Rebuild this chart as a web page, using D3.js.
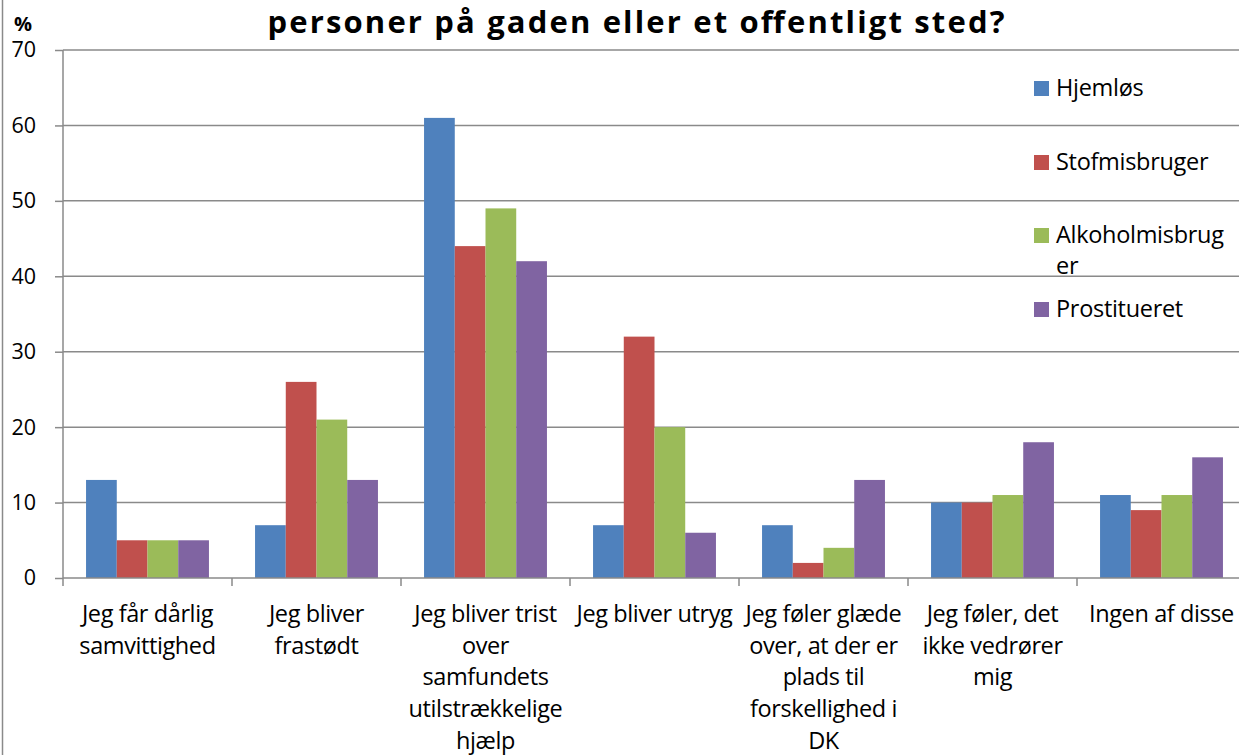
<!DOCTYPE html>
<html>
<head>
<meta charset="utf-8">
<script src="https://cdn.jsdelivr.net/npm/d3@7"></script>
<style>
  html, body { margin: 0; padding: 0; background: #fff; }
  svg { display: block; }
  text { font-family: "Open Sans", "Noto Sans", sans-serif; }
</style>
</head>
<body>
<svg id="chart" width="1239" height="755"></svg>
<script>
// ---- data ----
const categories = [
  "Jeg får dårlig samvittighed",
  "Jeg bliver frastødt",
  "Jeg bliver trist over samfundets utilstrækkelige hjælp",
  "Jeg bliver utryg",
  "Jeg føler glæde over, at der er plads til forskellighed i DK",
  "Jeg føler, det ikke vedrører mig",
  "Ingen af disse"
];
const categoryLines = [
  ["Jeg får dårlig", "samvittighed"],
  ["Jeg bliver", "frastødt"],
  ["Jeg bliver trist", "over", "samfundets", "utilstrækkelige", "hjælp"],
  ["Jeg bliver utryg"],
  ["Jeg føler glæde", "over, at der er", "plads til", "forskellighed i", "DK"],
  ["Jeg føler, det", "ikke vedrører", "mig"],
  ["Ingen af disse"]
];
const seriesNames = ["Hjemløs", "Stofmisbruger", "Alkoholmisbruger", "Prostitueret"];
const legendLines = [["Hjemløs"], ["Stofmisbruger"], ["Alkoholmisbrug", "er"], ["Prostitueret"]];
const hjemlos        = [13, 7, 61, 7, 7, 10, 11];
const stofmisbruger  = [5, 26, 44, 32, 2, 10, 9];
const alkoholmisbrug = [5, 21, 49, 20, 4, 11, 11];
const prostitueret   = [5, 13, 42, 6, 13, 18, 16];
const yTicks = [0, 10, 20, 30, 40, 50, 60, 70];
const titleText = "personer på gaden eller et offentligt sted?";
const yUnit = "%";

const seriesValues = [hjemlos, stofmisbruger, alkoholmisbrug, prostitueret];
const colors = ["#4F81BD", "#C0504D", "#9BBB59", "#8064A2"];

// ---- layout ----
const svg = d3.select("#chart");
const plotLeft = 63, plotTop = 50, plotBottom = 578;
const bandW = 169;
const plotRight = plotLeft + bandW * categories.length;

const x0 = d3.scaleBand().domain(categories).range([plotLeft, plotRight]).paddingInner(0).paddingOuter(0);
const x1 = d3.scaleBand().domain(seriesNames).range([0, x0.bandwidth()]).paddingInner(0).paddingOuter(0.75);
const y = d3.scaleLinear().domain([0, 70]).range([plotBottom, plotTop]);

const gridColor = "#8a8a8a";

// chart border on the left
svg.append("line").attr("x1", 2.5).attr("x2", 2.5).attr("y1", 0).attr("y2", 755)
  .attr("stroke", gridColor).attr("stroke-width", 1.5);

// gridlines
svg.append("g").selectAll("line").data(yTicks.filter(d => d > 0)).join("line")
  .attr("x1", plotLeft).attr("x2", 1239)
  .attr("y1", d => y(d)).attr("y2", d => y(d))
  .attr("stroke", gridColor).attr("stroke-width", 1.5);

// bars
const groups = svg.append("g").selectAll("g").data(categories).join("g")
  .attr("transform", d => `translate(${x0(d)},0)`);
groups.selectAll("rect")
  .data((c, i) => seriesNames.map((s, j) => ({ s, v: seriesValues[j][i], j })))
  .join("rect")
  .attr("x", d => x1(d.s))
  .attr("width", x1.bandwidth())
  .attr("y", d => y(d.v))
  .attr("height", d => y(0) - y(d.v))
  .attr("fill", d => colors[d.j]);

// y axis
const yAxis = d3.axisLeft(y).tickValues(yTicks).tickSize(8).tickPadding(8).tickFormat(d3.format("d"));
const yg = svg.append("g").attr("transform", `translate(${plotLeft},0)`).call(yAxis);
yg.select(".domain").attr("stroke", gridColor).attr("stroke-width", 1.5).attr("d", `M0,${plotTop}V${plotBottom}`);
yg.selectAll(".tick line").attr("stroke", gridColor).attr("stroke-width", 1.5);
yg.selectAll(".tick text").attr("font-size", 21.5).attr("fill", "#000")
  .attr("font-family", "'Open Sans', sans-serif").attr("x", -27);

// x axis
const xg = svg.append("g").attr("transform", `translate(0,${plotBottom})`);
xg.append("line").attr("x1", plotLeft).attr("x2", 1239).attr("y1", 0).attr("y2", 0)
  .attr("stroke", gridColor).attr("stroke-width", 1.5);
xg.selectAll("line.tick").data(categories.map(c => x0(c)).concat([plotRight]).filter(v => v < 1239))
  .join("line").attr("class", "tick")
  .attr("x1", d => d).attr("x2", d => d).attr("y1", 0).attr("y2", 8)
  .attr("stroke", gridColor).attr("stroke-width", 1.5);

// category labels
const lab = svg.append("g").selectAll("text").data(categories).join("text")
  .attr("text-anchor", "middle")
  .attr("font-size", 23.5)
  .attr("fill", "#000")
  .attr("letter-spacing", "-0.4");
lab.each(function(c, i) {
  const t = d3.select(this);
  categoryLines[i].forEach((ln, k) => {
    t.append("tspan").attr("x", x0(c) + x0.bandwidth() / 2).attr("y", 622 + k * 31.7).text(ln);
  });
});

// title
svg.append("text").attr("x", 636).attr("y", 33).attr("text-anchor", "middle")
  .attr("font-size", 31).attr("font-weight", "bold").attr("fill", "#000")
  .attr("textLength", 737).attr("lengthAdjust", "spacing")
  .text(titleText);

// unit
svg.append("text").attr("x", 14).attr("y", 31).attr("font-size", 20).attr("font-weight", "bold")
  .attr("fill", "#000").text(yUnit);

// legend
const legendBase = [96, 170, 243, 317];
const lg = svg.append("g").selectAll("g").data(seriesNames).join("g");
lg.append("rect").attr("x", 1034).attr("y", (d, i) => legendBase[i] - 15).attr("width", 15).attr("height", 15)
  .attr("fill", (d, i) => colors[i]);
lg.append("text").attr("font-size", 23.5).attr("fill", "#000").attr("letter-spacing", "-0.3")
  .each(function(d, i) {
    const t = d3.select(this);
    legendLines[i].forEach((ln, k) => {
      t.append("tspan").attr("x", 1056).attr("y", legendBase[i] + k * 31).text(ln);
    });
  });
</script>
</body>
</html>
